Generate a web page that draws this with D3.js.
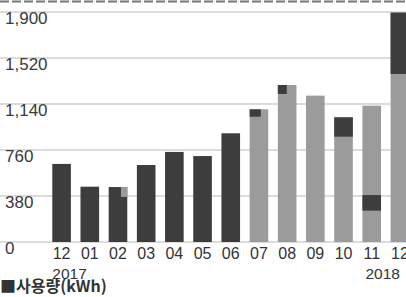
<!DOCTYPE html>
<html>
<head>
<meta charset="utf-8">
<script src="https://cdn.jsdelivr.net/npm/d3@7"></script>
<style>
  body { margin: 0; background: #fff; }
  svg text { font-family: "Liberation Sans", Arial, sans-serif; fill: #333; }
</style>
</head>
<body>
<div id="chart"></div>
<script>
// monthly usage, 2017-12 .. 2018-12
const months = ["12", "01", "02", "03", "04", "05", "06", "07", "08", "09", "10", "11", "12"];
const usage = [645, 457, 454, 636, 744, 710, 898, 1096, 1297, 1209, 1030, 1126, 1895];
const barTone = ["dark", "dark", "dark", "dark", "dark", "dark", "dark",
                 "light", "light", "light", "light", "light", "light"];
// highlighted band inside a bar (kWh from / to), null = none
const markFrom = [null, null, 372, null, null, null, null, 1035, 1223, null, 870, 259, 1388];
const markTo   = [null, null, 454, null, null, null, null, 1096, 1297, null, 1030, 388, 1895];
const yTicks = [0, 380, 760, 1140, 1520, 1900];
const yearLabels = [{ i: 0, text: "2017" }, { i: 12, text: "2018" }];
const unitLabel = "■사용량(kWh)";

const W = 406, H = 297;
const colors = { dark: "#3d3d3d", light: "#9b9b9b" };

let svg = d3.select("#chart").append("svg")
    .attr("width", W)
    .attr("height", H);

let x = d3.scaleBand()
    .domain(d3.range(months.length))
    .range([47.5, 414])
    .paddingInner(0.34)
    .paddingOuter(0.17);

let y = d3.scaleLinear()
    .domain([0, 1900])
    .range([242, 12]);

// dashed rule along the top edge
svg.append("line")
    .attr("x1", 0).attr("x2", W)
    .attr("y1", 1.5).attr("y2", 1.5)
    .attr("stroke", "#777")
    .attr("stroke-width", 2)
    .attr("stroke-dasharray", "9,3");

// gridlines + labels
let grid = svg.append("g").attr("class", "grid");
grid.selectAll("line")
    .data(yTicks)
    .enter().append("line")
    .attr("x1", 0).attr("x2", W)
    .attr("y1", d => y(d)).attr("y2", d => y(d))
    .attr("stroke", "#dcdcdc")
    .attr("stroke-width", 2);

grid.selectAll("text")
    .data(yTicks)
    .enter().append("text")
    .attr("x", 5)
    .attr("y", d => y(d) + 12)
    .style("font-size", "17px")
    .style("fill", "#3a3a3a")
    .text(d => d3.format(",")(d));

// bars
let bars = svg.append("g").attr("class", "bars");
bars.selectAll("rect")
    .data(usage)
    .enter().append("rect")
    .attr("x", (d, i) => x(i))
    .attr("width", x.bandwidth())
    .attr("y", d => y(d))
    .attr("height", d => y(0) - y(d))
    .attr("fill", (d, i) => colors[barTone[i]]);

// some marks only cover part of the bar
const markPart = { 2: [0.66, 1], 7: [0, 0.6], 8: [0, 0.48] };
let marks = d3.range(months.length).filter(i => markFrom[i] !== null);
bars.selectAll("rect.mark")
    .data(marks)
    .enter().append("rect")
    .attr("class", "mark")
    .attr("x", i => x(i) + x.bandwidth() * (markPart[i] ? markPart[i][0] : 0))
    .attr("width", i => x.bandwidth() * (markPart[i] ? markPart[i][1] - markPart[i][0] : 1))
    .attr("y", i => y(markTo[i]))
    .attr("height", i => y(markFrom[i]) - y(markTo[i]))
    .attr("fill", i => barTone[i] === "dark" ? colors.light : colors.dark);

// x axis labels
let xAxis = svg.append("g")
    .attr("transform", "translate(0," + y(0) + ")")
    .call(d3.axisBottom(x).tickSize(0).tickPadding(0).tickFormat(i => months[i]));
xAxis.select(".domain").remove();
xAxis.selectAll("text")
    .attr("dy", null)
    .attr("y", 16.5)
    .style("font-size", "16px")
    .style("font-family", "'Liberation Sans', Arial, sans-serif")
    .attr("fill", "#333");

svg.selectAll("text.year")
    .data(yearLabels)
    .enter().append("text")
    .attr("class", "year")
    .attr("x", d => d.i === 0 ? x(d.i) : x(d.i) + x.bandwidth() / 2)
    .attr("y", 278.5)
    .attr("text-anchor", d => d.i === 0 ? "start" : "end")
    .style("font-size", "15.5px")
    .text(d => d.text);

svg.append("text")
    .attr("x", 0)
    .attr("y", 292)
    .style("font-size", "16px")
    .style("font-weight", "bold")
    .style("font-family", "'Noto Sans CJK KR', sans-serif")
    .text(unitLabel);
</script>
</body>
</html>
